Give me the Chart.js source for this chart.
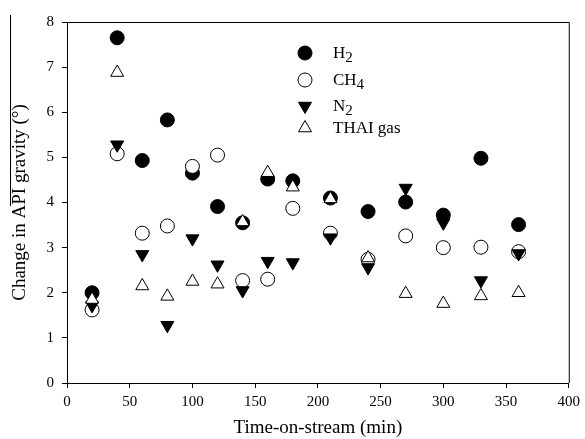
<!DOCTYPE html>
<html lang="en">
  <head>
    <meta charset="UTF-8" />
    <title>API gravity change vs time-on-stream</title>
  </head>
  <style>
    * {
      margin: 0;
      padding: 0;
    }
    body {
      background: white;
    }
    .chartBox {
      width: 585px;
      height: 439px;
    }
  </style>
  <body>
    <div class="chartBox">
      <canvas id="myChart" width="585" height="439"></canvas>
    </div>

    <script src="https://cdn.jsdelivr.net/npm/chart.js"></script>

    <script>
      // data block
      const times = [20, 40, 60, 80, 100, 120, 140, 160, 180, 210, 240, 270, 300, 330, 360];
      const h2 = [2.0, 7.65, 4.93, 5.83, 4.65, 3.91, 3.55, 4.52, 4.48, 4.1, 3.8, 4.01, 3.72, 4.98, 3.51];
      const ch4 = [1.62, 5.08, 3.32, 3.48, 4.8, 5.05, 2.27, 2.3, 3.87, 3.32, 2.74, 3.26, 3.0, 3.01, 2.91];
      const n2 = [1.72, 5.28, 2.85, 1.28, 3.2, 2.62, 2.05, 2.7, 2.67, 3.22, 2.56, 4.32, 3.55, 2.27, 2.87];
      const thai = [1.85, 6.88, 2.15, 1.92, 2.25, 2.19, 3.57, 4.66, 4.34, 4.08, 2.77, 1.98, 1.76, 1.93, 2.0];
      const seriesNames = ["H2", "CH4", "N2", "THAI gas"];
      // legend text split into [normal, subscript] parts
      const legendParts = [["H", "2"], ["CH", "4"], ["N", "2"], ["THAI gas", ""]];

      const serif = "'Liberation Serif', 'Times New Roman', serif";

      function toPoints(values) {
        return values.map((v, i) => ({ x: times[i], y: v }));
      }

      // marker styles, same order as seriesNames
      const markers = [
        { pointStyle: "circle", radius: 7, fill: "#000", rotation: 0 },
        { pointStyle: "circle", radius: 7, fill: "#fff", rotation: 0 },
        { pointStyle: "triangle", radius: 7.5, fill: "#000", rotation: 180 },
        { pointStyle: "triangle", radius: 7.5, fill: "#fff", rotation: 0 }
      ];

      const data = {
        datasets: [h2, ch4, n2, thai].map((values, i) => ({
          label: seriesNames[i],
          data: toPoints(values),
          pointStyle: markers[i].pointStyle,
          pointRadius: markers[i].radius,
          pointRotation: markers[i].rotation,
          pointBackgroundColor: markers[i].fill,
          pointBorderColor: "#000",
          pointBorderWidth: 1,
          showLine: false,
          // later series sit on top, like the original plot
          order: 4 - i
        }))
      };

      // plugin block: frame, legend, overline on the y title
      const plotExtras = {
        id: "plotExtras",
        afterDraw(chart) {
          const {
            ctx,
            chartArea: { left, top, right, bottom }
          } = chart;
          ctx.save();
          ctx.strokeStyle = "#000";
          ctx.lineWidth = 1;
          ctx.beginPath();
          ctx.moveTo(left, top + 0.5);
          ctx.lineTo(right + 0.5, top + 0.5);
          ctx.lineTo(right + 0.5, bottom);
          ctx.stroke();

          // odd overline left over in the original y title
          ctx.beginPath();
          ctx.moveTo(10.5, 15);
          ctx.lineTo(10.5, 206);
          ctx.stroke();

          // legend
          const rows = [53, 80, 106, 128];
          rows.forEach((y, i) => {
            const m = markers[i];
            ctx.fillStyle = m.fill;
            ctx.strokeStyle = "#000";
            ctx.lineWidth = 1;
            Chart.helpers.drawPoint(ctx, {
              pointStyle: m.pointStyle,
              radius: m.radius,
              rotation: m.rotation,
              borderWidth: 1
            }, 305, y);

            const [main, sub] = legendParts[i];
            ctx.fillStyle = "#000";
            ctx.textBaseline = "alphabetic";
            ctx.font = "17px " + serif;
            ctx.fillText(main, 333, y + 5);
            if (sub) {
              const w = ctx.measureText(main).width;
              ctx.font = "15px " + serif;
              ctx.fillText(sub, 333 + w, y + 9);
            }
          });
          ctx.restore();
        }
      };

      // config block
      const config = {
        type: "scatter",
        data,
        options: {
          responsive: false,
          animation: false,
          layout: {
            padding: { top: 22, right: 15, left: 0, bottom: 0 }
          },
          plugins: {
            legend: { display: false },
            tooltip: { enabled: false }
          },
          scales: {
            x: {
              type: "linear",
              min: 0,
              max: 400,
              ticks: {
                stepSize: 50,
                color: "#000",
                padding: 5,
                font: { family: serif, size: 15 }
              },
              grid: {
                drawOnChartArea: false,
                drawTicks: true,
                tickLength: 5,
                color: "#000"
              },
              border: { color: "#000" },
              title: {
                display: true,
                text: "Time-on-stream (min)",
                color: "#000",
                font: { family: serif, size: 19 },
                padding: { top: 4, bottom: 0 }
              },
              afterFit(scale) {
                scale.height = 56;
              }
            },
            y: {
              min: 0,
              max: 8,
              ticks: {
                stepSize: 1,
                color: "#000",
                padding: 8,
                font: { family: serif, size: 15 }
              },
              grid: {
                drawOnChartArea: false,
                drawTicks: true,
                tickLength: 5,
                color: "#000"
              },
              border: { color: "#000" },
              title: {
                display: true,
                text: "Change in API gravity (\u00B0)",
                color: "#000",
                font: { family: serif, size: 19 },
                padding: { top: 9, bottom: 0 }
              },
              afterFit(scale) {
                scale.width = 67;
              }
            }
          }
        },
        plugins: [plotExtras]
      };

      // init render block
      const myChart = new Chart(document.getElementById("myChart"), config);
    </script>
  </body>
</html>
